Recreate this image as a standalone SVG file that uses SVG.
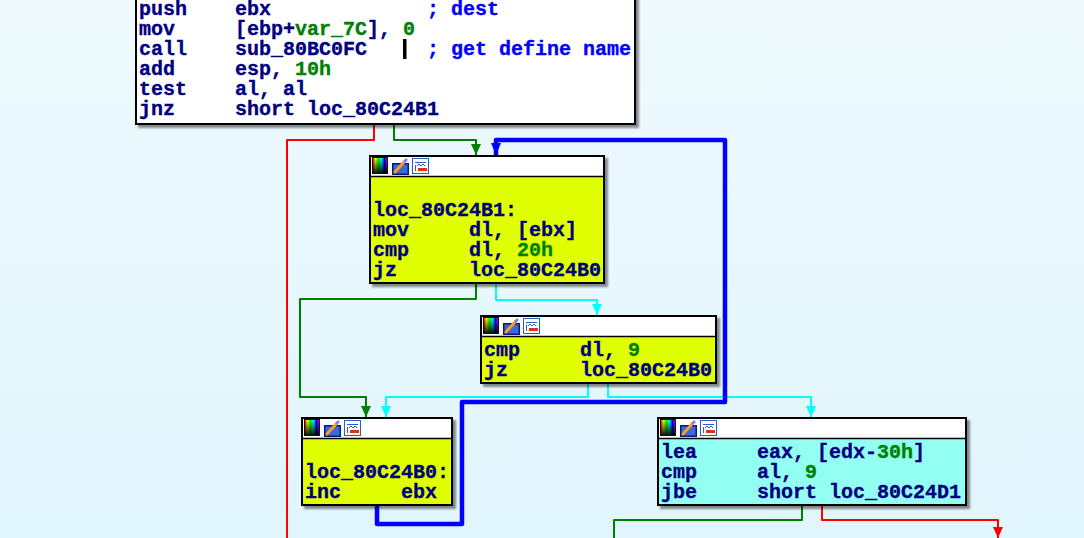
<svg xmlns="http://www.w3.org/2000/svg" width="1084" height="538" viewBox="0 0 1084 538">
<defs>
<linearGradient id="bg" x1="0" y1="0" x2="0" y2="1">
<stop offset="0" stop-color="#eefafe"/>
<stop offset="1" stop-color="#e1f5fc"/>
</linearGradient>
<linearGradient id="hue" x1="0" y1="0" x2="1" y2="0">
<stop offset="0" stop-color="#ff0000"/>
<stop offset="0.2" stop-color="#ffff00"/>
<stop offset="0.4" stop-color="#00ff00"/>
<stop offset="0.6" stop-color="#00ffff"/>
<stop offset="0.8" stop-color="#0000ff"/>
<stop offset="1" stop-color="#ff00ff"/>
</linearGradient>
<linearGradient id="dark" x1="0" y1="0" x2="0" y2="1">
<stop offset="0" stop-color="#000" stop-opacity="0"/>
<stop offset="1" stop-color="#000" stop-opacity="0.9"/>
</linearGradient>
<filter id="sh" x="-5%" y="-5%" width="115%" height="130%">
<feDropShadow dx="3" dy="3" stdDeviation="1.2" flood-color="#000" flood-opacity="0.45"/>
</filter>
<marker id="ag" markerUnits="userSpaceOnUse" markerWidth="12" markerHeight="12" refX="5" refY="11" viewBox="0 0 10 12"><path d="M0,0 L10,0 L5,11 Z" fill="#008000"/></marker>
<marker id="ac" markerUnits="userSpaceOnUse" markerWidth="12" markerHeight="12" refX="5" refY="11" viewBox="0 0 10 12"><path d="M0,0 L10,0 L5,11 Z" fill="#00ffff"/></marker>
<marker id="ab" markerUnits="userSpaceOnUse" markerWidth="12" markerHeight="14" refX="5" refY="13" viewBox="0 0 10 14"><path d="M0,1 L10,1 L5,13 Z" fill="#0000ff"/></marker>
<marker id="ar" markerUnits="userSpaceOnUse" markerWidth="12" markerHeight="12" refX="5" refY="11" viewBox="0 0 10 12"><path d="M0,0 L10,0 L5,11 Z" fill="#ff0000"/></marker>
<g id="icons">
<rect x="2.5" y="1.5" width="15" height="16" fill="url(#hue)" stroke="#101020" stroke-width="1"/>
<rect x="3" y="2" width="14" height="15" fill="url(#dark)"/>
<rect x="22.5" y="7.5" width="16" height="11" fill="#2040b0" stroke="#0a1a70" stroke-width="1"/>
<rect x="24" y="9" width="13" height="8" fill="#3a6ad8"/>
<path d="M25,16 L35,5" stroke="#ff9a20" stroke-width="3" stroke-linecap="round"/>
<path d="M34,6 L37,3" stroke="#8080ff" stroke-width="2.5"/>
<rect x="42.5" y="2.5" width="16" height="15" fill="#ffffff" stroke="#2a5ad0" stroke-width="1"/>
<path d="M45,6.5 H56 M45.5,9 V15 M47,10 L49,8 L51,10 L53,8 L55,10" stroke="#2a5ad0" stroke-width="1" fill="none"/>
<rect x="48" y="12" width="9" height="3" fill="#e03020"/>
</g>
<style>
text{font-family:"Liberation Mono","DejaVu Sans Mono",monospace;font-size:20px;font-weight:bold;fill:#000080;stroke:#000080;stroke-width:0.35;white-space:pre}
.g{fill:#008000;stroke:#008000}
.c{fill:#0000ff;stroke:#0000ff}
.box{stroke:#000;stroke-width:2}
.y{fill:#e0ff00}
.cy{fill:#93fff2}
.hd{fill:#fff}
.sep{stroke:#000;stroke-width:1.5}
.ln{fill:none;stroke-width:2;stroke-linejoin:round}
.thick{fill:none;stroke:#0000ff;stroke-width:4.5;stroke-linejoin:round}
</style>
</defs>
<rect width="1084" height="538" fill="url(#bg)"/>

<g id="connectors">
<path class="ln" d="M374,124 V140 H287 V538" stroke="#ff0000"/>
<path class="ln" d="M394,124 V140 H476 V155" stroke="#008000" marker-end="url(#ag)"/>
<path class="ln" d="M496,283 V300 H597 V315" stroke="#00ffff" marker-end="url(#ac)"/>
<path class="ln" d="M476,283 V299 H300 V397 H366 V417" stroke="#008000" marker-end="url(#ag)"/>
<path class="ln" d="M588,383 V397 H386 V417" stroke="#00ffff" marker-end="url(#ac)"/>
<path class="ln" d="M608,383 V397 H811 V417" stroke="#00ffff" marker-end="url(#ac)"/>
<path class="ln" d="M802,505 V520 H614 V538" stroke="#008000"/>
<path class="ln" d="M822,505 V520 H998 V538" stroke="#ff0000" marker-end="url(#ar)"/>
<path class="thick" d="M377,505 V524 H462 V402 H725 V140 H496 V155" marker-end="url(#ab)"/>
</g>

<g id="node-top">
<rect class="box" x="136" y="-20" width="499" height="144" fill="#ffffff" filter="url(#sh)"/>
<text x="139" y="15">push<tspan x="235">ebx</tspan><tspan x="427" class="c">; dest</tspan></text>
<text x="139" y="35">mov<tspan x="235">[ebp+</tspan><tspan class="g">var_7C</tspan>], <tspan class="g">0</tspan></text>
<text x="139" y="55">call<tspan x="235">sub_80BC0FC</tspan><tspan x="427" class="c">; get define name</tspan></text>
<rect x="403" y="39" width="3.5" height="20" fill="#000"/>
<text x="139" y="75">add<tspan x="235">esp, </tspan><tspan class="g">10h</tspan></text>
<text x="139" y="95">test<tspan x="235">al, al</tspan></text>
<text x="139" y="115">jnz<tspan x="235">short loc_80C24B1</tspan></text>
</g>

<g id="node-loc_80C24B1">
<rect class="box y" x="370" y="156" width="234" height="127" filter="url(#sh)"/>
<rect class="hd" x="371" y="157" width="232" height="19"/>
<line class="sep" x1="370" y1="176.5" x2="604" y2="176.5"/>
<use href="#icons" x="370" y="156"/>
<text x="373" y="216">loc_80C24B1:</text>
<text x="373" y="236">mov<tspan x="469">dl, [ebx]</tspan></text>
<text x="373" y="256">cmp<tspan x="469">dl, </tspan><tspan class="g">20h</tspan></text>
<text x="373" y="276">jz<tspan x="469">loc_80C24B0</tspan></text>
</g>

<g id="node-cmp9">
<rect class="box y" x="481" y="316" width="235" height="67" filter="url(#sh)"/>
<rect class="hd" x="482" y="317" width="233" height="19"/>
<line class="sep" x1="481" y1="336.5" x2="716" y2="336.5"/>
<use href="#icons" x="481" y="316"/>
<text x="484" y="356">cmp<tspan x="580">dl, </tspan><tspan class="g">9</tspan></text>
<text x="484" y="376">jz<tspan x="580">loc_80C24B0</tspan></text>
</g>

<g id="node-loc_80C24B0">
<rect class="box y" x="302" y="418" width="150" height="87" filter="url(#sh)"/>
<rect class="hd" x="303" y="419" width="148" height="19"/>
<line class="sep" x1="302" y1="438.5" x2="452" y2="438.5"/>
<use href="#icons" x="302" y="418"/>
<text x="305" y="478">loc_80C24B0:</text>
<text x="305" y="498">inc<tspan x="401">ebx</tspan></text>
</g>

<g id="node-lea">
<rect class="box cy" x="658" y="418" width="308" height="87" filter="url(#sh)"/>
<rect class="hd" x="659" y="419" width="306" height="19"/>
<line class="sep" x1="658" y1="438.5" x2="966" y2="438.5"/>
<use href="#icons" x="658" y="418"/>
<text x="661" y="458">lea<tspan x="757">eax, [edx-</tspan><tspan class="g">30h</tspan>]</text>
<text x="661" y="478">cmp<tspan x="757">al, </tspan><tspan class="g">9</tspan></text>
<text x="661" y="498">jbe<tspan x="757">short loc_80C24D1</tspan></text>
</g>
</svg>
